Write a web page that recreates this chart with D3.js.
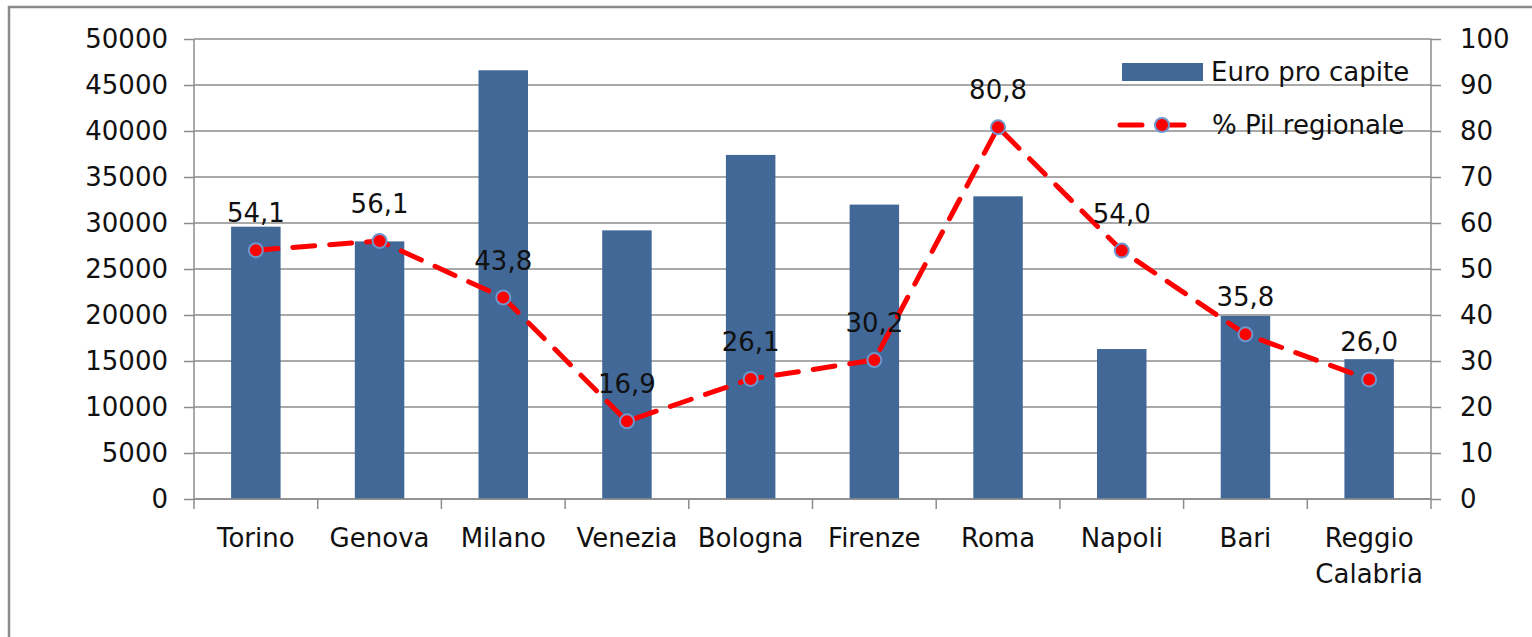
<!DOCTYPE html>
<html lang="it">
<head>
<meta charset="UTF-8">
<title>Euro pro capite / % Pil regionale</title>
<script src="https://d3js.org/d3.v7.min.js"></script>
<style>
    body { margin: 0; padding: 0; background: #fff; }
    svg { display: block; font-family: 'DejaVu Sans', sans-serif; }
    .tick text { fill: #111; }
</style>
</head>
<body>
<svg id="chart" width="1532" height="637"></svg>
<script>
    const cities = [["Torino"], ["Genova"], ["Milano"], ["Venezia"], ["Bologna"], ["Firenze"], ["Roma"], ["Napoli"], ["Bari"], ["Reggio", "Calabria"]];
    const euroProCapite = [29600, 28000, 46600, 29200, 37400, 32000, 32900, 16300, 19900, 15200];
    const pilRegionale = [54.1, 56.1, 43.8, 16.9, 26.1, 30.2, 80.8, 54.0, 35.8, 26.0];
    const leftTicks = [0, 5000, 10000, 15000, 20000, 25000, 30000, 35000, 40000, 45000, 50000];
    const rightTicks = [0, 10, 20, 30, 40, 50, 60, 70, 80, 90, 100];
    const seriesNames = ["Euro pro capite", "% Pil regionale"];

    const svg = d3.select("#chart");
    const margin = {left: 194, right: 1431, top: 39, bottom: 499};
    const fontSize = 26;
    const barColor = "#416897";
    const gridColor = "#8c8c8c";

    // outer frame (runs past the right and bottom edges)
    svg.append("rect")
        .attr("x", 9).attr("y", 7)
        .attr("width", 1600).attr("height", 700)
        .attr("fill", "none").attr("stroke", "#8a8a8a").attr("stroke-width", 2.5);

    const x = d3.scaleBand()
        .domain(cities.map(d => d.join(" ")))
        .range([margin.left, margin.right])
        .paddingInner(0.6).paddingOuter(0.3);

    const xBand = d3.scaleBand()
        .domain(cities.map(d => d.join(" ")))
        .range([margin.left, margin.right]);

    const yLeft = d3.scaleLinear().domain([0, 50000]).range([margin.bottom, margin.top]);
    const yRight = d3.scaleLinear().domain([0, 100]).range([margin.bottom, margin.top]);

    // gridlines
    svg.append("g").selectAll("line")
        .data(leftTicks)
        .join("line")
        .attr("x1", margin.left).attr("x2", margin.right)
        .attr("y1", d => yLeft(d)).attr("y2", d => yLeft(d))
        .attr("stroke", gridColor).attr("stroke-width", 1.5);

    // bars
    svg.append("g").selectAll("rect")
        .data(euroProCapite)
        .join("rect")
        .attr("x", (d, i) => x(cities[i].join(" ")))
        .attr("width", x.bandwidth())
        .attr("y", d => yLeft(d))
        .attr("height", d => yLeft(0) - yLeft(d))
        .attr("fill", barColor);

    // left axis
    const leftAxis = svg.append("g")
        .attr("transform", `translate(${margin.left},0)`)
        .call(d3.axisLeft(yLeft).tickValues(leftTicks).tickSize(10).tickPadding(16).tickFormat(d3.format("d")));
    leftAxis.selectAll("line, path").attr("stroke", gridColor).attr("stroke-width", 1.5);
    leftAxis.select(".domain").attr("d", `M0,${margin.top}V${margin.bottom}`);
    leftAxis.selectAll("text").attr("font-size", fontSize).attr("font-family", "DejaVu Sans");

    // right axis
    const rightAxis = svg.append("g")
        .attr("transform", `translate(${margin.right},0)`)
        .call(d3.axisRight(yRight).tickValues(rightTicks).tickSize(10).tickPadding(19));
    rightAxis.selectAll("line, path").attr("stroke", gridColor).attr("stroke-width", 1.5);
    rightAxis.select(".domain").attr("d", `M0,${margin.top}V${margin.bottom}`);
    rightAxis.selectAll("text").attr("font-size", fontSize).attr("font-family", "DejaVu Sans");

    // bottom axis: ticks at category boundaries
    const bottom = svg.append("g");
    bottom.append("line")
        .attr("x1", margin.left).attr("x2", margin.right)
        .attr("y1", margin.bottom).attr("y2", margin.bottom)
        .attr("stroke", gridColor).attr("stroke-width", 1.5);
    const boundaries = cities.map(d => xBand(d.join(" "))).concat([margin.right]);
    bottom.selectAll(".btick")
        .data(boundaries)
        .join("line")
        .attr("x1", d => d).attr("x2", d => d)
        .attr("y1", margin.bottom).attr("y2", margin.bottom + 10)
        .attr("stroke", gridColor).attr("stroke-width", 1.5);
    bottom.selectAll(".clabel")
        .data(cities)
        .join("text")
        .attr("text-anchor", "middle")
        .attr("font-size", fontSize)
        .attr("fill", "#111")
        .attr("x", d => xBand(d.join(" ")) + xBand.bandwidth() / 2)
        .attr("y", 547)
        .selectAll("tspan")
        .data(d => d)
        .join("tspan")
        .attr("x", function () { return d3.select(this.parentNode).attr("x"); })
        .attr("dy", (d, i) => i === 0 ? 0 : 36)
        .text(d => d);

    // line series
    const cx = i => xBand(cities[i].join(" ")) + xBand.bandwidth() / 2;
    const line = d3.line().x((d, i) => cx(i)).y(d => yRight(d));
    svg.append("path")
        .datum(pilRegionale)
        .attr("d", line)
        .attr("fill", "none")
        .attr("stroke", "#ff0000")
        .attr("stroke-width", 5)
        .attr("stroke-dasharray", "22 15")
        .attr("stroke-linecap", "round");

    svg.append("g").selectAll("circle")
        .data(pilRegionale)
        .join("circle")
        .attr("cx", (d, i) => cx(i))
        .attr("cy", d => yRight(d))
        .attr("r", 7)
        .attr("fill", "#ff0000")
        .attr("stroke", "#6f96cc")
        .attr("stroke-width", 2);

    // data labels
    svg.append("g").selectAll("text")
        .data(pilRegionale)
        .join("text")
        .attr("x", (d, i) => cx(i))
        .attr("y", d => yRight(d) - 28)
        .attr("text-anchor", "middle")
        .attr("font-size", fontSize)
        .attr("fill", "#111")
        .text(d => d3.format(".1f")(d).replace(".", ","));

    // legend
    const legend = svg.append("g");
    legend.append("rect")
        .attr("x", 1122).attr("y", 63).attr("width", 81).attr("height", 18)
        .attr("fill", barColor);
    legend.append("text")
        .attr("x", 1211).attr("y", 81)
        .attr("font-size", fontSize).attr("fill", "#111")
        .text(seriesNames[0]);
    legend.append("line")
        .attr("x1", 1120).attr("x2", 1185).attr("y1", 125).attr("y2", 125)
        .attr("stroke", "#ff0000").attr("stroke-width", 5)
        .attr("stroke-dasharray", "22 20").attr("stroke-linecap", "round");
    legend.append("circle")
        .attr("cx", 1162).attr("cy", 125).attr("r", 7)
        .attr("fill", "#ff0000").attr("stroke", "#6f96cc").attr("stroke-width", 2);
    legend.append("text")
        .attr("x", 1212).attr("y", 134)
        .attr("font-size", fontSize).attr("fill", "#111")
        .text(seriesNames[1]);
</script>
</body>
</html>
